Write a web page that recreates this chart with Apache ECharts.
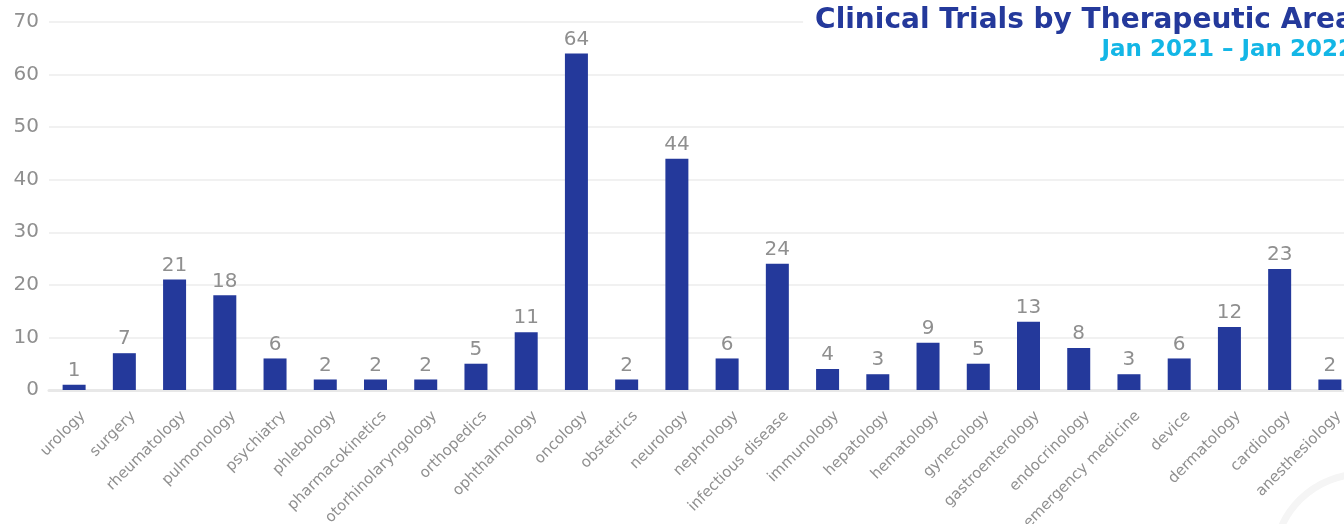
<!DOCTYPE html>
<html>
<head>
<meta charset="utf-8">
<script src="https://cdn.jsdelivr.net/npm/echarts@6/dist/echarts.min.js"></script>
<style>
html,body{margin:0;padding:0;background:#fff;}
#c{width:1344px;height:524px;}
</style>
</head>
<body>
<div id="c"></div>
<script>
const categories = ["urology","surgery","rheumatology","pulmonology","psychiatry","phlebology","pharmacokinetics","otorhinolaryngology","orthopedics","ophthalmology","oncology","obstetrics","neurology","nephrology","infectious disease","immunology","hepatology","hematology","gynecology","gastroenterology","endocrinology","emergency medicine","device","dermatology","cardiology","anesthesiology"];
const trials = [1,7,21,18,6,2,2,2,5,11,64,2,44,6,24,4,3,9,5,13,8,3,6,12,23,2];
const yTicks = {min:0, max:70, interval:10};
const titleText = "Clinical Trials by Therapeutic Area";
const subtitleText = "Jan 2021 \u2013 Jan 2022";

const FONT = "'DejaVu Sans', sans-serif";
const chart = echarts.init(document.getElementById('c'), null, {renderer:'canvas'});
chart.setOption({
  backgroundColor:'#fff',
  animation:false,
  graphic:[{
    type:'circle', silent:true, z:-10,
    shape:{cx:1362, cy:562, r:88},
    style:{fill:'none', stroke:'#f5f5f5', lineWidth:7}
  }],
  title:[{
    text:titleText,
    right:-10, top:2,
    padding:[5,0,3,12],
    backgroundColor:'#fff',
    textStyle:{color:'#24399b', fontSize:28, fontWeight:'bold', fontFamily:FONT}
  },{
    text:subtitleText,
    right:-10, top:39,
    padding:[0,0,0,0],
    textStyle:{color:'#13b6e6', fontSize:23, fontWeight:'bold', fontFamily:FONT}
  }],
  grid:{left:49, width:1306, top:22, bottom:134, containLabel:false, outerBoundsMode:'none'},
  xAxis:{
    type:'category',
    data:categories,
    axisTick:{show:false},
    axisLine:{lineStyle:{color:'#e8e8e8', width:3}},
    axisLabel:{rotate:45, interval:0, color:'#8f8f8f', fontSize:15, fontFamily:FONT, margin:15,
      verticalAlign:'top', padding:[5,0,0,0]}
  },
  yAxis:{
    type:'value',
    min:yTicks.min, max:yTicks.max, interval:yTicks.interval,
    axisLine:{show:false}, axisTick:{show:false},
    splitLine:{lineStyle:{color:'#ececec', width:1.5}},
    axisLabel:{color:'#8f8f8f', fontSize:20, fontFamily:FONT, margin:10}
  },
  series:[{
    type:'bar',
    data:trials,
    barWidth:23,
    itemStyle:{color:'#24399b'},
    label:{show:true, position:'top', color:'#8f8f8f', fontSize:20, fontFamily:FONT, distance:4}
  }]
});
</script>
</body>
</html>
